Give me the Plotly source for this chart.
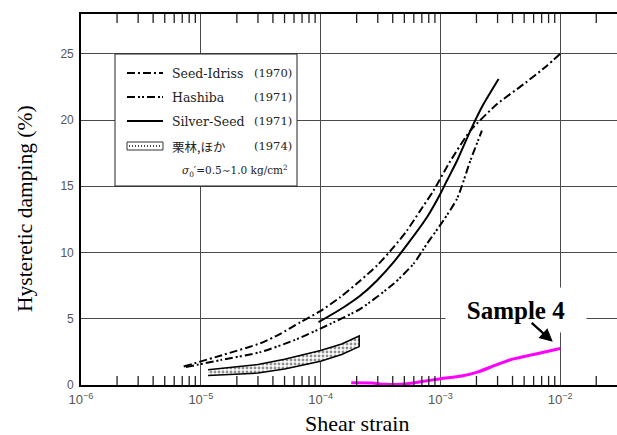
import numpy as np
import plotly.graph_objects as go

# ---------------- data ----------------
strain_si = [7.2e-6, 1.5e-5, 3.14e-5, 4.61e-5, 6.77e-5, 9.94e-5, 1.46e-4, 2.15e-4, 2.96e-4,
             4.07e-4, 5.26e-4, 6.8e-4, 8.77e-4, 1.21e-3, 1.78e-3, 2.97e-3, 4.95e-3, 7.76e-3, 1.0e-2]
damp_si = [1.4, 2.25, 3.15, 3.86, 4.74, 5.57, 6.63, 7.89, 9.02,
           10.4, 11.66, 13.17, 14.68, 16.9, 19.2, 21.2, 22.7, 24.1, 25.0]

strain_hashiba = [7.5e-6, 1.5e-5, 3.14e-5, 5.95e-5, 1.13e-4, 2.15e-4, 4.07e-4, 5.97e-4,
                  7.73e-4, 1.06e-3, 1.38e-3, 1.78e-3, 2.22e-3]
damp_hashiba = [1.35, 1.9, 2.48, 3.36, 4.49, 5.75, 7.64, 9.15,
                10.66, 12.42, 14.08, 16.94, 19.2]

strain_ss = [9.6e-5, 1.56e-4, 2.15e-4, 2.96e-4, 4.07e-4, 5.61e-4, 7.73e-4, 1.0e-3,
             1.135e-3, 1.38e-3, 1.78e-3, 2.29e-3, 3.06e-3]
damp_ss = [4.74, 5.87, 6.75, 7.89, 9.27, 10.91, 12.66, 14.43,
           15.43, 16.94, 19.2, 21.2, 23.1]

strain_kuri = [1.15e-5, 2e-5, 3e-5, 5e-5, 1e-4, 1.5e-4, 2.1e-4]
damp_kuri_upper = [1.15, 1.35, 1.55, 1.95, 2.6, 3.1, 3.7]
damp_kuri_lower = [0.72, 0.8, 0.9, 1.2, 1.8, 2.3, 2.9]

strain_s4 = [1.8e-4, 2.7e-4, 3.4e-4, 5e-4, 7e-4, 1e-3, 1.5e-3, 2e-3, 3e-3, 4e-3, 6e-3, 1e-2]
damp_s4 = [0.17, 0.15, 0.05, 0.08, 0.26, 0.47, 0.68, 0.95, 1.55, 1.95, 2.3, 2.75]

decade_exponents = [-6, -5, -4, -3, -2]
minor_multipliers = [2, 3, 4, 5, 6, 7, 8, 9]
y_ticks = [0, 5, 10, 15, 20, 25]

legend_names = ["Seed-Idriss", "Hashiba", "Silver-Seed", "栗林,ほか"]
legend_years = ["(1970)", "(1971)", "(1971)", "(1974)"]
legend_note = "<i>σ</i><sub>0</sub>′=0.5∼1.0 kg/cm<sup>2</sup>"
sample_label = "Sample 4"
x_title = "Shear strain"
y_title = "Hysteretic damping (%)"

# ---------------- geometry ----------------
W, H = 617, 435
ML, MR, MT, MB = 81, 0, 14, 50
PW, PH = W - ML - MR, H - MT - MB
X_RANGE = [-6, -6 + PW / 119.8]
Y_RANGE = [0, PH / 13.25]


def px(x):
    return (x - ML) / PW


def py(y):
    return (H - MB - y) / PH


# tick values / labels for the log axis
decade_vals = [10.0 ** e for e in decade_exponents]
decade_text = ["10<sup>\u2212%d</sup>" % (-e) for e in decade_exponents]
minor_vals = [m * 10.0 ** e for e in decade_exponents for m in minor_multipliers
              if np.log10(m * 10.0 ** e) <= X_RANGE[1]]

DASH_SI = "8px,3px,2px,3px"
DASH_HA = "8px,3px,2px,2px,2px,3px"

fig = go.Figure()

# Kuribayashi band
fig.add_trace(go.Scatter(
    x=strain_kuri + strain_kuri[::-1],
    y=damp_kuri_upper + damp_kuri_lower[::-1],
    mode="lines", fill="toself",
    fillcolor="white",
    fillpattern=dict(shape=".", fgcolor="#222", bgcolor="white", size=4, solidity=0.4),
    line=dict(color="black", width=1.5),
    showlegend=False, hoverinfo="skip"))

fig.add_trace(go.Scatter(x=strain_si, y=damp_si, mode="lines",
                         line=dict(color="black", width=2, dash=DASH_SI, shape="spline", smoothing=0.6),
                         showlegend=False))
fig.add_trace(go.Scatter(x=strain_hashiba, y=damp_hashiba, mode="lines",
                         line=dict(color="black", width=2, dash=DASH_HA, shape="spline", smoothing=0.6),
                         showlegend=False))
fig.add_trace(go.Scatter(x=strain_ss, y=damp_ss, mode="lines",
                         line=dict(color="black", width=2, shape="spline", smoothing=0.6),
                         showlegend=False))
fig.add_trace(go.Scatter(x=strain_s4, y=damp_s4, mode="lines",
                         line=dict(color="#FF00FF", width=3, shape="spline", smoothing=0.8),
                         showlegend=False))

# minor log ticks on bottom and top edges (half of each marker is clipped away)
for yedge in (Y_RANGE[0], Y_RANGE[1]):
    fig.add_trace(go.Scatter(x=minor_vals, y=[yedge] * len(minor_vals), mode="markers",
                             marker=dict(symbol="line-ns", size=13,
                                         line=dict(color="#222", width=1.3)),
                             cliponaxis=True, showlegend=False, hoverinfo="skip"))

shapes = []
annotations = []

# legend box
bx0, bx1, by0, by1 = 115, 297, 54, 186
shapes.append(dict(type="rect", xref="paper", yref="paper", layer="above",
                   x0=px(bx0), x1=px(bx1), y0=py(by1), y1=py(by0),
                   fillcolor="white", line=dict(color="#222", width=1)))
rows = [73, 97, 121, 146]
sx0, sx1 = 127, 163
dashes = [DASH_SI, DASH_HA, "solid"]
for i in range(3):
    shapes.append(dict(type="line", xref="paper", yref="paper", layer="above",
                       x0=px(sx0), x1=px(sx1), y0=py(rows[i]), y1=py(rows[i]),
                       line=dict(color="black", width=2, dash=dashes[i])))
# band sample
shapes.append(dict(type="rect", xref="paper", yref="paper", layer="above",
                   x0=px(sx0), x1=px(sx1), y0=py(rows[3] + 4), y1=py(rows[3] - 4),
                   fillcolor="white", line=dict(color="#333", width=1)))
shapes.append(dict(type="line", xref="paper", yref="paper", layer="above",
                   x0=px(sx0 + 2), x1=px(sx1 - 2), y0=py(rows[3]), y1=py(rows[3]),
                   line=dict(color="#444", width=2, dash="1px,2px")))

for i in range(4):
    annotations.append(dict(xref="paper", yref="paper", x=px(170), y=py(rows[i]),
                            xanchor="left", yanchor="middle", showarrow=False,
                            text=legend_names[i],
                            font=dict(family="DejaVu Serif, Liberation Serif" if i < 3 else "Noto Sans CJK JP",
                                      size=12.5, color="#222")))
    annotations.append(dict(xref="paper", yref="paper", x=px(252), y=py(rows[i]),
                            xanchor="left", yanchor="middle", showarrow=False,
                            text=legend_years[i],
                            font=dict(family="DejaVu Serif, Liberation Serif", size=11.5, color="#222")))
annotations.append(dict(xref="paper", yref="paper", x=px(180), y=py(171),
                        xanchor="left", yanchor="middle", showarrow=False,
                        text=legend_note,
                        font=dict(family="DejaVu Serif, Liberation Serif", size=10.5, color="#222")))

# Sample 4 label (white box hides grid behind it) and arrow
annotations.append(dict(xref="paper", yref="paper", x=px(516), y=py(310),
                        xanchor="center", yanchor="middle", showarrow=False,
                        text="<b>%s</b>" % sample_label, width=140, height=44,
                        bgcolor="white", borderpad=0,
                        font=dict(family="Liberation Serif", size=25, color="black")))
annotations.append(dict(xref="x", yref="y", x=np.log10(strain_s4[-1]), y=damp_s4[-1],
                        ax=-30, ay=-27, axref="pixel", ayref="pixel",
                        text="", showarrow=True, arrowhead=2, arrowsize=1.2,
                        arrowwidth=2.2, arrowcolor="black", standoff=10))

# axis titles
annotations.append(dict(xref="paper", yref="paper", x=px(357), y=py(423),
                        xanchor="center", yanchor="middle", showarrow=False,
                        text=x_title, font=dict(family="Liberation Serif", size=22, color="black")))
annotations.append(dict(xref="paper", yref="paper", x=px(25), y=py(209),
                        xanchor="center", yanchor="middle", showarrow=False, textangle=-90,
                        text=y_title, font=dict(family="Liberation Serif", size=21.5, color="black")))

fig.update_layout(
    width=W, height=H,
    margin=dict(l=ML, r=MR, t=MT, b=MB, pad=0),
    paper_bgcolor="white", plot_bgcolor="white",
    shapes=shapes, annotations=annotations,
    showlegend=False,
    xaxis=dict(type="log", range=X_RANGE,
               tickmode="array", tickvals=decade_vals, ticktext=decade_text,
               ticks="", showgrid=True, gridcolor="#4a4a4a", gridwidth=1.3,
               showline=True, linecolor="black", linewidth=1.6, mirror=True,
               ticklabelstandoff=2,
               tickfont=dict(family="Liberation Sans", size=13, color="#555"),
               zeroline=False),
    yaxis=dict(range=Y_RANGE, tickmode="array", tickvals=y_ticks,
               ticks="", showgrid=True, gridcolor="#4a4a4a", gridwidth=1.3,
               showline=True, linecolor="black", linewidth=1.6,
               ticklabelstandoff=3,
               tickfont=dict(family="Liberation Sans", size=12, color="#555"),
               zeroline=False),
)

fig.write_html("out.html")
